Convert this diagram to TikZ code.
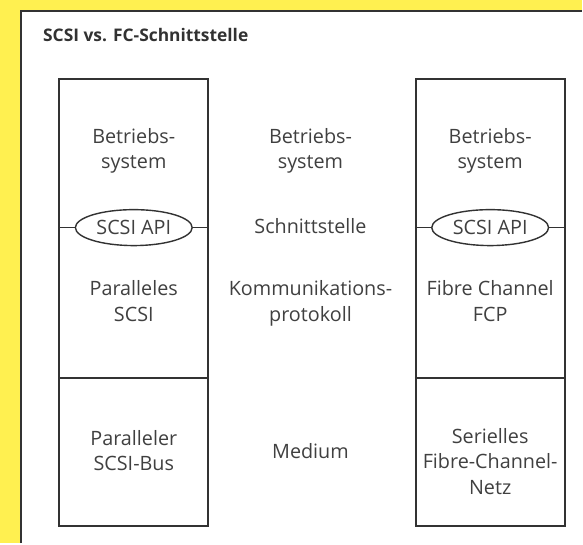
\documentclass[tikz,border=0pt]{standalone}
\usepackage{fontspec}
\setmainfont{Open Sans}
\usetikzlibrary{shapes.geometric}
\definecolor{panelyellow}{RGB}{255,240,80}
\definecolor{ink}{RGB}{50,50,50}
\definecolor{txt}{RGB}{64,64,64}
\begin{document}
\begin{tikzpicture}[x=1pt,y=-1pt,
  stack/.style={draw=ink, line width=2pt, minimum width=149pt, minimum height=448pt, inner sep=0},
  lbl/.style={text=txt, font=\fontsize{19.8}{25.5}\selectfont, align=center, inner sep=0, anchor=base},
  api/.style={ellipse, draw=ink, line width=1.4pt, minimum width=117pt, minimum height=36pt,
    inner sep=0, text=txt, font=\fontsize{19.8}{25.5}\selectfont},
  link/.style={draw=ink, line width=1.4pt}]
% background and panel frame
\fill[panelyellow] (0,0) rectangle (583,544);
\fill[white] (21.5,11) rectangle (583,544);
\draw[ink, line width=2pt] (21.5,544) -- (21.5,11) -- (583,11);
\node[anchor=base west, text=ink, inner sep=0, font=\fontsize{17.4}{20}\selectfont\bfseries] (title) at (43,42) {SCSI vs. FC-Schnittstelle};
% the two protocol stacks
\node[stack] (L) at (134,303) {};
\node[stack] (R) at (491,303) {};
\draw[ink, line width=2pt] (L.west |- 0,379) -- (L.east |- 0,379);
\draw[ink, line width=2pt] (R.west |- 0,379) -- (R.east |- 0,379);
% API ellipses
\node[api, fill=white] (apiL) at (134,228) {SCSI API};
\node[api, fill=white] (apiR) at (491,228) {SCSI API};
\draw[link] (L.west |- apiL.west) -- (apiL.west);
\draw[link] (apiL.east) -- (L.east |- apiL.east);
\draw[link] (R.west |- apiR.west) -- (apiR.west);
\draw[link] (apiR.east) -- (R.east |- apiR.east);
% left column (anchors sit on the baseline of the last line)
\node[lbl] (osL) at (134,169) {Betriebs-\\system};
\node[lbl] (protoL) at (134,322) {Paralleles\\SCSI};
\node[lbl] (medL) at (134,471.5) {Paralleler\\SCSI-Bus};
% middle column
\node[lbl] (osM) at (311,169) {Betriebs-\\system};
\node[lbl] (ifM) at (311,234) {Schnittstelle};
\node[lbl] (protoM) at (311,322) {Kommunikations-\\protokoll};
\node[lbl] (medM) at (311,459) {Medium};
% right column
\node[lbl] (osR) at (491,169) {Betriebs-\\system};
\node[lbl] (protoR) at (491,322) {Fibre Channel\\FCP};
\node[lbl] (medR) at (491,495) {Serielles\\Fibre-Channel-\\Netz};
\end{tikzpicture}
\end{document}
